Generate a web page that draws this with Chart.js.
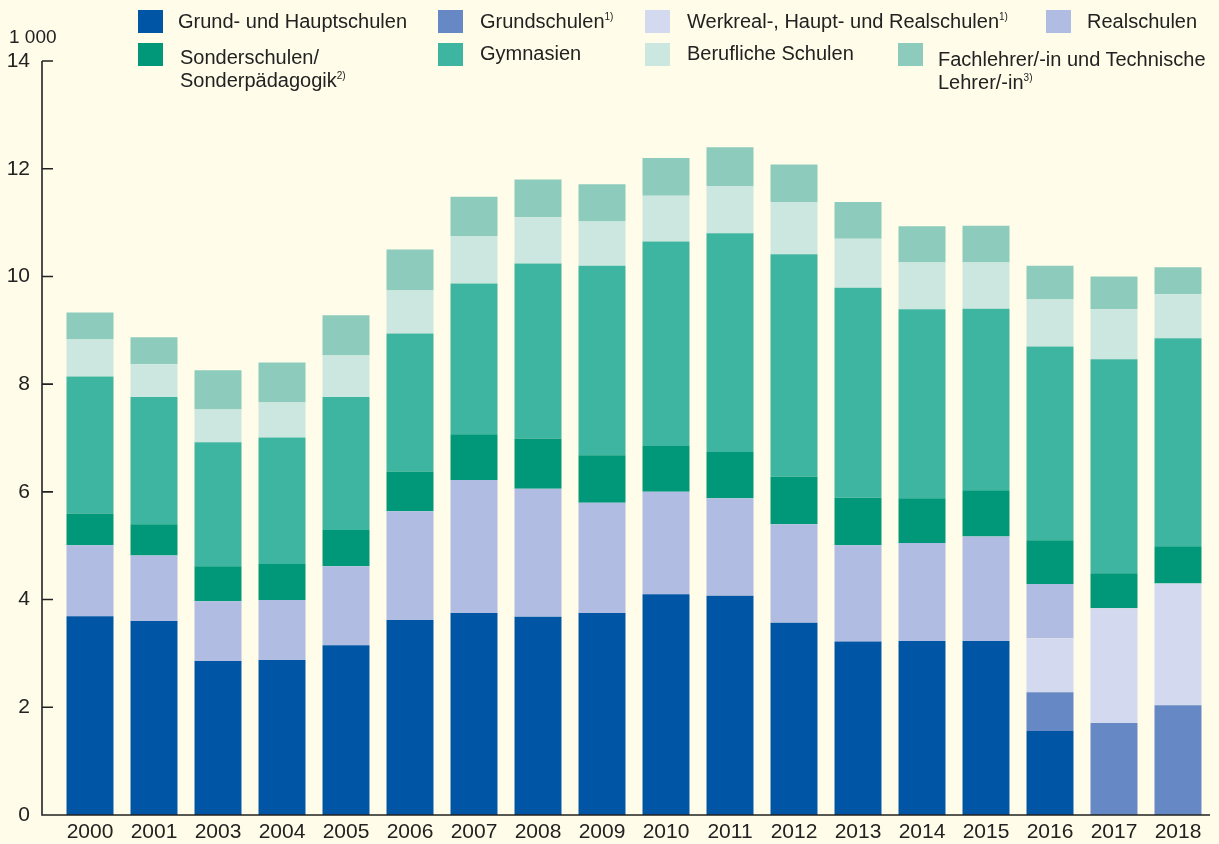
<!DOCTYPE html>
<html>
<head>
<meta charset="utf-8">
<script src="https://cdn.jsdelivr.net/npm/chart.js@4"></script>
<style>
  html, body { margin: 0; padding: 0; background: #fffce9; }
  #wrap { position: relative; width: 1219px; height: 844px; }
  #legend { position: absolute; left: 0; top: 0; font-family: "Liberation Sans", Arial, sans-serif; font-size: 20px; color: #222; }
  .item { position: absolute; }
  .box { position: absolute; width: 25px; height: 23px; }
  .txt { position: absolute; white-space: pre; line-height: 23px; }
  .txt sup { font-size: 10px; vertical-align: 8px; line-height: 0; }
</style>
</head>
<body>
<div id="wrap">
  <canvas id="myChart" width="1219" height="844"></canvas>
  <div id="legend"></div>
</div>
<script>
const years = ['2000', '2001', '2003', '2004', '2005', '2006', '2007', '2008', '2009',
  '2010', '2011', '2012', '2013', '2014', '2015', '2016', '2017', '2018'];

// Lehrkräfte in 1 000
const grundHaupt = [3.69, 3.60, 2.86, 2.88, 3.15, 3.62, 3.75, 3.68, 3.75, 4.10, 4.07, 3.57, 3.22, 3.23, 3.23, 1.56, null, null];
const grundschulen = [null, null, null, null, null, null, null, null, null, null, null, null, null, null, null, 0.72, 1.71, 2.04];
const werkreal = [null, null, null, null, null, null, null, null, null, null, null, null, null, null, null, 1.00, 2.13, 2.26];
const realschulen = [1.32, 1.22, 1.11, 1.11, 1.47, 2.02, 2.47, 2.38, 2.05, 1.90, 1.81, 1.83, 1.79, 1.82, 1.94, 1.01, null, null];
const sonder = [0.59, 0.58, 0.65, 0.67, 0.67, 0.74, 0.85, 0.93, 0.88, 0.85, 0.86, 0.88, 0.88, 0.83, 0.86, 0.81, 0.65, 0.69];
const gymnasien = [2.54, 2.36, 2.30, 2.35, 2.47, 2.56, 2.80, 3.25, 3.52, 3.80, 4.06, 4.13, 3.90, 3.51, 3.37, 3.60, 3.97, 3.86];
const beruflich = [0.69, 0.61, 0.61, 0.65, 0.77, 0.80, 0.87, 0.86, 0.82, 0.85, 0.88, 0.97, 0.91, 0.87, 0.86, 0.87, 0.93, 0.82];
const fachlehrer = [0.50, 0.50, 0.73, 0.74, 0.75, 0.76, 0.74, 0.70, 0.69, 0.70, 0.72, 0.70, 0.68, 0.67, 0.68, 0.63, 0.61, 0.50];

const yTicks = [0, 2, 4, 6, 8, 10, 12, 14];
const unitLabel = '1 000';

const names = ['Grund- und Hauptschulen', 'Grundschulen', 'Werkreal-, Haupt- und Realschulen', 'Realschulen',
  'Sonderschulen/\nSonderpädagogik', 'Gymnasien', 'Berufliche Schulen', 'Fachlehrer/-in und Technische\nLehrer/-in'];
const notes = ['', '1)', '1)', '', '2)', '', '', '3)'];
const colors = ['#0055a5', '#6688c4', '#d3d9ee', '#b0bce1', '#009879', '#3eb5a0', '#cce7e0', '#8dcbbc'];
const series = [grundHaupt, grundschulen, werkreal, realschulen, sonder, gymnasien, beruflich, fachlehrer];

const axisLines = {
  id: 'axisLines',
  afterDraw(chart) {
    const ctx = chart.ctx;
    const y = chart.scales.y;
    const x0 = 42;
    ctx.save();
    ctx.strokeStyle = '#222';
    ctx.lineWidth = 1.6;
    ctx.beginPath();
    ctx.moveTo(x0, y.getPixelForValue(14));
    ctx.lineTo(x0, y.getPixelForValue(0));
    ctx.lineTo(chart.chartArea.right, y.getPixelForValue(0));
    yTicks.forEach(v => {
      const py = y.getPixelForValue(v);
      ctx.moveTo(x0, py);
      ctx.lineTo(x0 + 11, py);
    });
    ctx.stroke();
    ctx.fillStyle = '#222';
    ctx.font = '19px "Liberation Sans", Arial, sans-serif';
    ctx.textBaseline = 'middle';
    ctx.fillText(unitLabel, 9, 38);
    ctx.restore();
  }
};

const myChart = new Chart(document.getElementById('myChart'), {
  type: 'bar',
  data: {
    labels: years,
    datasets: series.map((d, i) => ({
      label: names[i],
      data: d,
      backgroundColor: colors[i],
      borderWidth: 0,
      barPercentage: 0.734,
      categoryPercentage: 1
    }))
  },
  options: {
    responsive: false,
    animation: false,
    layout: { padding: { top: 61, right: 9, left: 0, bottom: 0 } },
    plugins: { legend: { display: false }, tooltip: { enabled: false } },
    scales: {
      x: {
        stacked: true,
        grid: { display: false },
        border: { display: false },
        ticks: { color: '#222', padding: -3, font: { family: '"Liberation Sans", Arial, sans-serif', size: 21 } },
        afterFit(scale) { scale.height = 29; scale.paddingLeft = 0; scale.paddingRight = 0; }
      },
      y: {
        stacked: true,
        min: 0,
        max: 14,
        afterBuildTicks(scale) { scale.ticks = yTicks.map(v => ({ value: v })); },
        grid: { display: false },
        border: { display: false },
        ticks: { color: '#222', padding: 20, font: { family: '"Liberation Sans", Arial, sans-serif', size: 21 } },
        afterFit(scale) { scale.width = 58; scale.paddingTop = 0; scale.paddingBottom = 0; }
      }
    }
  },
  plugins: [axisLines]
});

// legend laid out like the original (4 columns, 2 rows)
const legendPos = [[138, 10], [438, 10], [645, 10], [1046, 10], [138, 43], [438, 43], [645, 43], [898, 43]];
const textOff = [[40, 0], [42, 0], [42, 0], [41, 0], [42, 3], [42, -1], [42, -1], [40, 5]];
const legend = document.getElementById('legend');
names.forEach((n, i) => {
  const item = document.createElement('div');
  item.className = 'item';
  item.style.left = legendPos[i][0] + 'px';
  item.style.top = legendPos[i][1] + 'px';
  const box = document.createElement('div');
  box.className = 'box';
  box.style.background = colors[i];
  const txt = document.createElement('div');
  txt.className = 'txt';
  txt.style.left = textOff[i][0] + 'px';
  txt.style.top = textOff[i][1] + 'px';
  txt.textContent = n;
  if (notes[i]) {
    const s = document.createElement('sup');
    s.textContent = notes[i];
    txt.appendChild(s);
  }
  item.appendChild(box);
  item.appendChild(txt);
  legend.appendChild(item);
});
</script>
</body>
</html>
